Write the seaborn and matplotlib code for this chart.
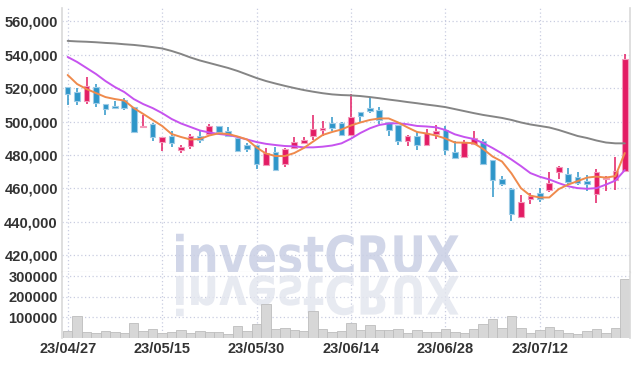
import numpy as np
import matplotlib
matplotlib.use('Agg')
import matplotlib.pyplot as plt
import seaborn as sns
from matplotlib.textpath import TextPath
from matplotlib.patches import PathPatch
from matplotlib.font_manager import FontProperties
from matplotlib.transforms import Affine2D, IdentityTransform

sns.set_style('white')
plt.rcParams['font.family'] = ['Liberation Sans', 'DejaVu Sans']

# trading days shown on the chart
dates = ['23/04/27', '23/04/28', '23/05/02', '23/05/03', '23/05/04', '23/05/08', '23/05/09', '23/05/10',
         '23/05/11', '23/05/12', '23/05/15', '23/05/16', '23/05/17', '23/05/18', '23/05/19', '23/05/22',
         '23/05/23', '23/05/24', '23/05/25', '23/05/26', '23/05/30', '23/05/31', '23/06/01', '23/06/02',
         '23/06/05', '23/06/07', '23/06/08', '23/06/09', '23/06/12', '23/06/13', '23/06/14', '23/06/15',
         '23/06/16', '23/06/19', '23/06/20', '23/06/21', '23/06/22', '23/06/23', '23/06/26', '23/06/27',
         '23/06/28', '23/06/29', '23/06/30', '23/07/03', '23/07/04', '23/07/05', '23/07/06', '23/07/07',
         '23/07/10', '23/07/11', '23/07/12', '23/07/13', '23/07/14', '23/07/17', '23/07/18', '23/07/19',
         '23/07/20', '23/07/21', '23/07/24', '23/07/25']

opens = [520700, 517300, 512300, 520500, 510100, 508900, 512900, 508600, 496800, 498600,
         488000, 491400, 483400, 485400, 491400, 492600, 497000, 494400, 490200, 486000,
         485800, 474200, 481400, 474600, 484400, 487600, 491400, 495200, 499300, 499300,
         492400, 505700, 508100, 506900, 499800, 497800, 488600, 491400, 486200, 492600,
         495000, 481800, 479000, 487000, 488000, 477000, 465600, 459800, 443100, 453800,
         457400, 459400, 469800, 468600, 467000, 464600, 457100, 465600, 465000, 470600]
highs = [521000, 520100, 526900, 522500, 510500, 512300, 514300, 509000, 504000, 499000,
         491000, 494600, 486000, 492400, 495000, 498600, 497300, 496600, 490500, 487400,
         486000, 484400, 485000, 484000, 490600, 490600, 504000, 500500, 502600, 500000,
         516300, 506000, 514600, 508600, 500000, 498000, 492000, 493600, 495700, 497800,
         497400, 488200, 489000, 494600, 489400, 477300, 467400, 460000, 456000, 457000,
         460000, 470000, 473400, 472000, 470000, 468000, 471400, 467400, 478600, 540500]
lows = [510000, 509900, 510500, 508900, 504000, 507400, 506900, 493400, 496500, 488200,
        482600, 484600, 481000, 483800, 487400, 491400, 493500, 491000, 482000, 481600,
        471400, 473400, 470500, 473000, 483800, 486600, 488900, 491400, 494400, 491500,
        491600, 499000, 505000, 498400, 491400, 485800, 485400, 483000, 486000, 489400,
        480000, 478400, 478600, 486000, 474500, 455000, 461400, 440700, 443000, 450700,
        451900, 458000, 465800, 462600, 461900, 458600, 451400, 458600, 459000, 470000]
closes = [516500, 512500, 520900, 511300, 508000, 508300, 508600, 493800, 497400, 491000,
          490600, 487400, 484400, 491400, 489400, 497000, 493800, 491800, 482600, 483600,
          474600, 481000, 471000, 483400, 487400, 488600, 495400, 496300, 496600, 492200,
          502900, 503400, 506300, 501400, 495000, 488600, 491400, 486200, 493000, 494200,
          483400, 478600, 487800, 489800, 475000, 465400, 463000, 445100, 451900, 455400,
          453800, 463400, 472600, 464300, 463400, 462600, 469400, 466200, 470000, 537500]
volumes = [33800, 106300, 29000, 22500, 33800, 29000, 22500, 70900, 33800, 41900,
           22500, 29000, 37000, 22500, 32200, 29000, 29000, 17700, 56400, 33800,
           66000, 162800, 41900, 46700, 37000, 33800, 128800, 41900, 29000, 33800,
           74100, 37000, 62800, 37000, 37000, 41900, 22500, 37000, 29000, 29000,
           41900, 29000, 22500, 41900, 66000, 91800, 46700, 104800, 46700, 22500,
           37000, 51700, 37000, 22500, 17700, 32200, 41900, 22500, 46700, 288400]

ma_short = [527900, 522500, 519500, 517100, 514700, 513500, 512600, 508100, 504600, 501000,
            497400, 492600, 490800, 489300, 489600, 491700, 493000, 492600, 491100, 489300,
            484500, 480900, 479400, 479400, 481200, 484200, 488100, 492000, 493800, 495300,
            497700, 499500, 501000, 501900, 501900, 499500, 496500, 493800, 492900, 491700,
            489900, 487500, 487400, 487100, 483600, 479100, 476100, 469000, 460200, 455700,
            454600, 454600, 459600, 462300, 464400, 466500, 467100, 466500, 467400, 481200]
ma_mid = [538700, 535700, 532100, 528500, 524300, 520700, 517700, 513500, 510500, 508100,
          505100, 501600, 498900, 496800, 494700, 493500, 492600, 492000, 490800, 489300,
          487800, 486700, 486000, 485400, 485200, 484600, 484600, 485000, 485700, 487000,
          489800, 493200, 496000, 498000, 498900, 499000, 498400, 497400, 497100, 496600,
          495000, 492400, 490800, 489600, 487200, 484200, 480900, 477300, 473400, 469200,
          467000, 465400, 463200, 461300, 460200, 459800, 460200, 462300, 464700, 471000]
ma_long = [548300, 548000, 547800, 547500, 547100, 546800, 546300, 545900, 545300, 544600,
           543800, 542300, 540500, 538400, 536600, 535100, 533600, 532100, 530300, 528200,
           526100, 524300, 522800, 521400, 520100, 518900, 517900, 517000, 516300, 515900,
           515700, 515300, 514700, 514000, 513200, 512500, 511700, 511000, 510200, 509500,
           508700, 507500, 506300, 505100, 504000, 503100, 502200, 501000, 499500, 498300,
           497400, 496500, 495000, 493200, 491400, 490200, 488700, 487500, 487000, 487000]

price_ticks = [420000, 440000, 460000, 480000, 500000, 520000, 540000, 560000]
volume_ticks = [100000, 200000, 300000]

UP, UP_EDGE = '#e31c64', '#f39abb'
DOWN, DOWN_EDGE = '#2e96c9', '#9dcbe6'
GRID = '#c9cde0'
LABEL = dict(fontsize=10.5, fontweight='bold', color='#333333',
             family=['Liberation Sans', 'DejaVu Sans'])

idx = np.arange(len(dates))
o = np.array(opens); c = np.array(closes)
up = c >= o
colors = [UP if u else DOWN for u in up]
edges = [UP_EDGE if u else DOWN_EDGE for u in up]

fig = plt.figure(figsize=(6.38, 3.66), dpi=100)
W, H = 638, 366
ax = fig.add_axes([62 / W, (H - 272) / H, 568 / W, 264 / H])
axv = fig.add_axes([62 / W, (H - 338) / H, 568 / W, 66 / H])

# watermark and its reflection
fp = FontProperties(family='DejaVu Sans', weight='bold')
tp = TextPath((0, 0), 'investCRUX', size=50, prop=fp)
ext = tp.get_extents()
sx = 283 / ext.width
sy = 41 / ext.height
wm = Affine2D().translate(-ext.x0, 0).scale(sx, sy).translate(176, H - 274)
ax.add_artist(PathPatch(wm.transform_path(tp), fc='#c9cfe4', ec='none', alpha=0.85,
                        transform=IdentityTransform(), zorder=0.6))
ref = Affine2D().translate(-ext.x0, 0).scale(sx, -sy).translate(176, H - 276)
axv.add_artist(PathPatch(ref.transform_path(tp), fc='#e2e5ee', ec='none', alpha=0.8,
                         transform=IdentityTransform(), zorder=0.6))

# candles
ax.vlines(idx, lows, highs, colors=colors, lw=1.1, zorder=2)
ax.bar(idx, np.abs(c - o) + 300, bottom=np.minimum(o, c) - 150, width=0.6,
       color=colors, edgecolor=edges, linewidth=0.8, zorder=3)

sns.lineplot(x=idx, y=ma_long, ax=ax, color='#858585', lw=1.4, zorder=4)
sns.lineplot(x=idx, y=ma_mid, ax=ax, color='#c653ef', lw=1.4, zorder=4)
sns.lineplot(x=idx, y=ma_short, ax=ax, color='#ef8a4c', lw=1.4, zorder=4)

sns.barplot(x=idx, y=volumes, ax=axv, native_scale=True, color='#d7d7d7', saturation=1,
            width=1.0, edgecolor='#bdbdbd', linewidth=0.6, errorbar=None, zorder=2)

for a in (ax, axv):
    a.set_xlim(-0.6, 59.55)
    a.set_xticks(idx[::10])
    a.grid(True, color=GRID, ls=(0, (1, 2)), lw=0.9)
    a.set_axisbelow(True)
    a.tick_params(length=0, pad=3)
    a.set_xlabel('')
    a.set_ylabel('')
    for s in ('top', 'bottom'):
        a.spines[s].set_visible(False)
    for s in ('left', 'right'):
        a.spines[s].set_color('#d9d9d9')
        a.spines[s].set_linewidth(1.2)

ax.set_ylim(410000, 568000)
ax.set_yticks(price_ticks)
ax.set_yticklabels([f'{v:,}' for v in price_ticks], **LABEL)
ax.set_xticklabels([])
ax.spines['bottom'].set_visible(True)
ax.spines['bottom'].set_color('#d9d9d9')

axv.set_ylim(0, 320000)
axv.set_yticks(volume_ticks)
axv.set_yticklabels([str(v) for v in volume_ticks], **LABEL)
axv.set_xticklabels(dates[::10], **LABEL)

fig.savefig('out.png', dpi=100)
